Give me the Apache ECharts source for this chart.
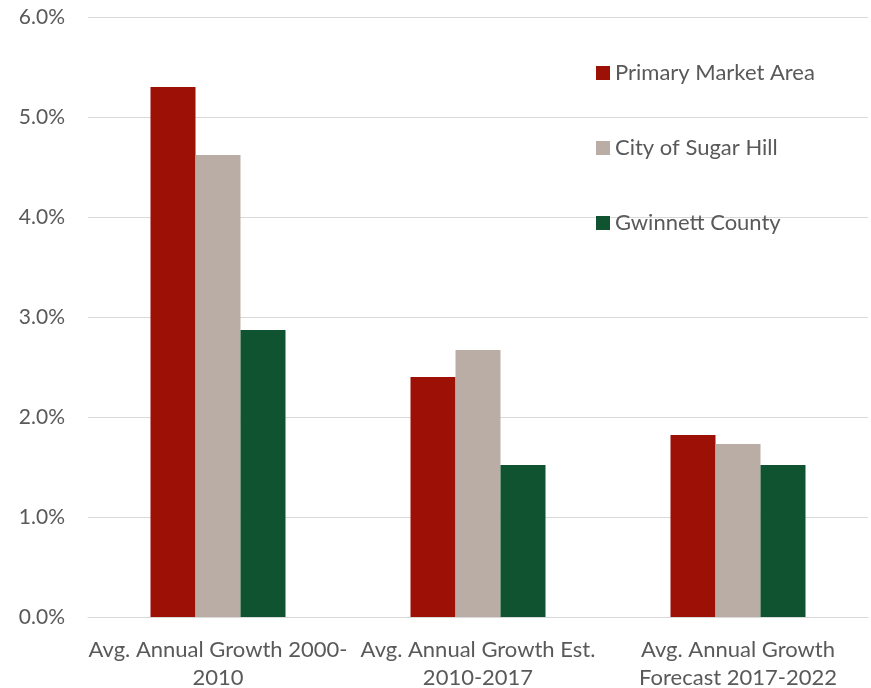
<!DOCTYPE html>
<html>
<head>
<meta charset="utf-8">
<script src="https://cdn.jsdelivr.net/npm/echarts@6/dist/echarts.min.js"></script>
<style>
  html, body { margin: 0; padding: 0; background: #fff; }
  #chart { width: 871px; height: 688px; }
</style>
</head>
<body>
<div id="chart"></div>
<script>
// categories (two-line labels)
var categories = [
  "Avg. Annual Growth 2000-\n2010",
  "Avg. Annual Growth Est.\n2010-2017",
  "Avg. Annual Growth\nForecast 2017-2022"
];
var seriesNames = ["Primary Market Area", "City of Sugar Hill", "Gwinnett County"];
// values in percent
var primaryMarket = [5.30, 2.40, 1.82];
var sugarHill = [4.62, 2.67, 1.73];
var gwinnett = [2.87, 1.52, 1.52];
var colors = ["#9c1006", "#b9ada5", "#0f5330"];

var font = "Lato, 'Noto Sans', sans-serif";
var chart = echarts.init(document.getElementById("chart"));

var option = {
  animation: false,
  color: colors,
  textStyle: { fontFamily: font },
  grid: {
    left: 88,
    right: 3,
    top: 17,
    bottom: 71,
    containLabel: false,
    outerBoundsMode: "none"
  },
  legend: {
    data: seriesNames,
    orient: "vertical",
    left: 596,
    top: 62,
    padding: 0,
    itemWidth: 14,
    itemHeight: 14,
    itemGap: 53,
    icon: "rect",
    textStyle: { color: "#595959", fontSize: 22, fontFamily: font }
  },
  xAxis: {
    type: "category",
    data: categories,
    axisLine: { lineStyle: { color: "#d9d9d9", width: 1 } },
    axisTick: { show: false },
    axisLabel: {
      interval: 0,
      color: "#595959",
      fontSize: 22,
      lineHeight: 28,
      margin: 19,
      fontFamily: font
    }
  },
  yAxis: {
    type: "value",
    min: 0,
    max: 6,
    interval: 1,
    axisLine: { show: false },
    axisTick: { show: false },
    splitLine: { lineStyle: { color: "#d9d9d9", width: 1 } },
    axisLabel: {
      color: "#595959",
      fontSize: 21,
      margin: 23,
      fontFamily: font,
      formatter: function (v) { return v.toFixed(1) + "%"; }
    }
  },
  series: [
    { name: seriesNames[0], type: "bar", data: primaryMarket, barWidth: 45, barGap: "0%" },
    { name: seriesNames[1], type: "bar", data: sugarHill, barWidth: 45, barGap: "0%" },
    { name: seriesNames[2], type: "bar", data: gwinnett, barWidth: 45, barGap: "0%" }
  ]
};

chart.setOption(option);
</script>
</body>
</html>
